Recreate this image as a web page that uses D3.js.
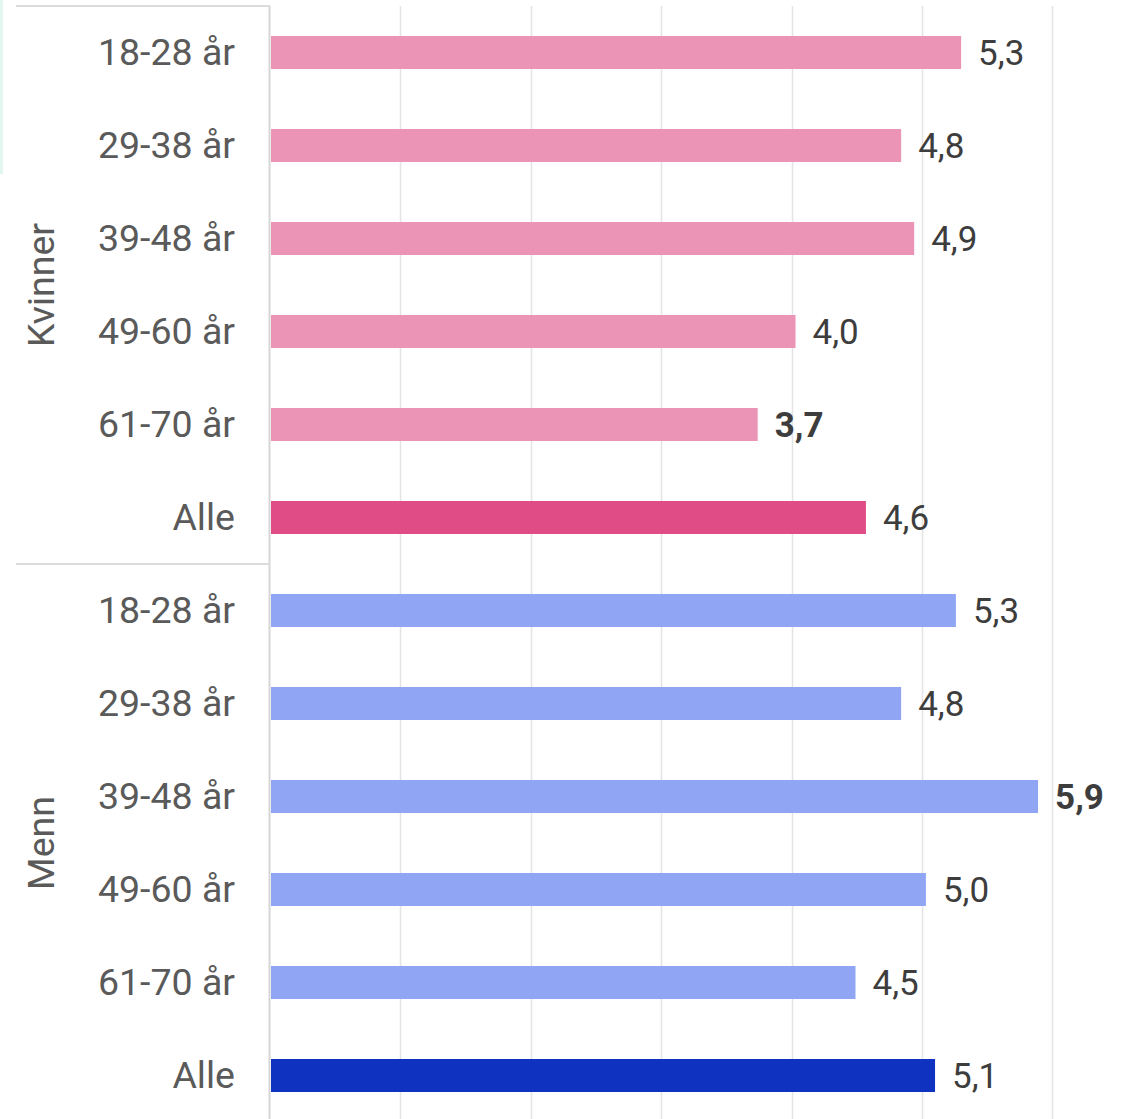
<!DOCTYPE html>
<html><head><meta charset="utf-8">
<script src="https://cdn.jsdelivr.net/npm/d3@7"></script>
<style>body{margin:0;background:#fff}svg{display:block}text{font-family:Roboto,"Open Sans",sans-serif}</style>
</head><body><svg id="c" width="1137" height="1119"></svg>
<script>
const groups = ["Kvinner", "Menn"];
const categories = ["18-28 år", "29-38 år", "39-48 år", "49-60 år", "61-70 år", "Alle"];
const kvinnerValues = [5.30, 4.84, 4.94, 4.03, 3.74, 4.57];
const mennValues = [5.26, 4.84, 5.89, 5.03, 4.49, 5.10];
const xTicks = [0, 1, 2, 3, 4, 5, 6];

(function () {
const svg = d3.select("#c");
const W = 1137, H = 1119;
const plotLeft = 270, plotTop = 6, rowH = 93;
const rows = [];
groups.forEach((g, gi) => {
  const vals = gi === 0 ? kvinnerValues : mennValues;
  categories.forEach((c, ci) => rows.push({group: g, gi, cat: c, ci, v: vals[ci], key: g + "|" + ci}));
});
const x = d3.scaleLinear().domain([0, 6]).range([plotLeft, plotLeft + 6 * 130.4]);
const y = d3.scaleBand().domain(rows.map(r => r.key)).range([plotTop, plotTop + rows.length * rowH]).paddingInner(0.645).paddingOuter(0.3225);

svg.append("rect").attr("x", 0).attr("y", 0).attr("width", 3).attr("height", 174).attr("fill", "#e3f6f0");

svg.append("g").selectAll("line").data(xTicks.slice(1)).join("line")
  .attr("x1", d => Math.round(x(d)) + 0.5).attr("x2", d => Math.round(x(d)) + 0.5)
  .attr("y1", plotTop).attr("y2", H).attr("stroke", "#e4e4e4").attr("stroke-width", 1.5);

svg.append("line").attr("x1", plotLeft - 0.5).attr("x2", plotLeft - 0.5).attr("y1", plotTop).attr("y2", H)
  .attr("stroke", "#d6d6d6").attr("stroke-width", 2);

[0, 6].forEach(i => {
  const yy = plotTop + i * rowH;
  svg.append("line").attr("x1", 16).attr("x2", plotLeft).attr("y1", yy).attr("y2", yy)
    .attr("stroke", "#dcdcdc").attr("stroke-width", 2);
});

const colorOf = r => r.gi === 0 ? (r.cat === "Alle" ? "#e04c85" : "#eb94b5") : (r.cat === "Alle" ? "#0f33c0" : "#90a6f5");
const allVals = kvinnerValues.concat(mennValues);
const vmin = d3.min(allVals), vmax = d3.max(allVals);

svg.append("g").selectAll("rect").data(rows).join("rect")
  .attr("x", x(0) + 1).attr("y", d => y(d.key)).attr("height", y.bandwidth())
  .attr("width", d => x(d.v) - x(0) - 1).attr("fill", colorOf);

const fmt = v => d3.format(".1f")(v).replace(".", ",");
svg.append("g").selectAll("text").data(rows).join("text")
  .attr("x", d => x(d.v) + 17).attr("y", d => y(d.key) + y.bandwidth() / 2 + 12.5)
  .attr("font-size", 35).attr("fill", "#3d3d3d")
  .attr("font-weight", d => (d.v === vmin || d.v === vmax) ? "bold" : "normal")
  .text(d => fmt(d.v));

svg.append("g").selectAll("text").data(rows).join("text")
  .attr("x", 235).attr("y", d => y(d.key) + y.bandwidth() / 2 + 12.5)
  .attr("text-anchor", "end").attr("font-size", 37.5).attr("fill", "#5a5a5a")
  .text(d => d.cat);

groups.forEach((g, gi) => {
  const cy = plotTop + (gi * 6 + 3) * rowH;
  svg.append("text").attr("transform", `translate(54,${cy}) rotate(-90)`)
    .attr("text-anchor", "middle").attr("font-size", 37.5).attr("fill", "#5a5a5a").text(g);
});
})();
</script></body></html>
